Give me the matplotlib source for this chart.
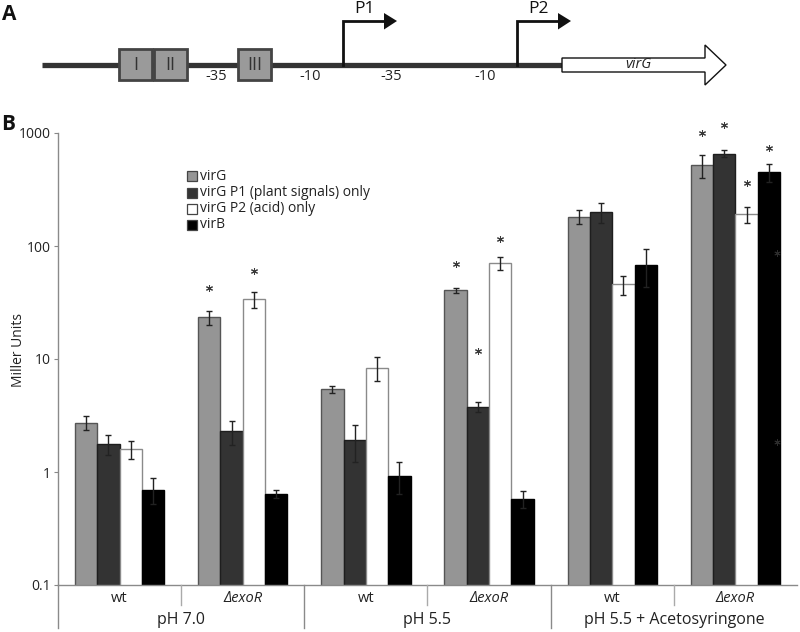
import matplotlib
matplotlib.use("Agg")
import matplotlib.pyplot as plt
import matplotlib.transforms as mtransforms
from matplotlib.patches import Rectangle, Polygon
import numpy as np

plt.rcParams['font.family'] = ['Open Sans', 'DejaVu Sans']

# ---------------- data ----------------
strains = ['wt', 'ΔexoR', 'wt', 'ΔexoR', 'wt', 'ΔexoR']
conditions = ['pH 7.0', 'pH 5.5', 'pH 5.5 + Acetosyringone']
series_names = ['virG', 'virG P1 (plant signals) only', 'virG P2 (acid) only', 'virB']

virG = [2.73, 23.4, 5.39, 40.5, 182, 518]
virG_err = [0.38, 3.4, 0.35, 2.4, 27, 116]
virG_P1 = [1.76, 2.29, 1.91, 3.76, 199, 656]
virG_P1_err = [0.35, 0.55, 0.68, 0.37, 40, 48]
virG_P2 = [1.60, 33.8, 8.38, 70.3, 45.8, 192]
virG_P2_err = [0.29, 5.7, 2.0, 9.6, 8.6, 31.5]
virB = [0.70, 0.64, 0.93, 0.58, 68.4, 449]
virB_err = [0.18, 0.05, 0.29, 0.10, 25, 79]

# significance asterisks: (category index, series index, y value)
star_cat = [1, 1, 3, 3, 3, 5, 5, 5, 5]
star_ser = [0, 2, 0, 1, 2, 0, 1, 2, 3]
star_y = [42.8, 60.1, 69.3, 11.8, 115, 1006, 1170, 363, 737]
# faint stray marks inside the last black bar
faint_y = [86.7, 1.84]

yticks = [0.1, 1, 10, 100, 1000]
ytick_labels = ['0.1', '1', '10', '100', '1000']

# ---------------- styles ----------------
face = ['#959595', '#333333', '#ffffff', '#000000']
edge = ['#555555', '#1e1e1e', '#8a8a8a', '#000000']

W, H = 800, 632
fig = plt.figure(figsize=(W / 100, H / 100), dpi=100)

# overlay axes in pixel coordinates (y downward)
ov = fig.add_axes([0, 0, 1, 1], zorder=5)
ov.set_xlim(0, W)
ov.set_ylim(H, 0)
ov.axis('off')
ov.patch.set_alpha(0)

# main axes
x0, x1, ytop, ybot = 58, 797, 133, 585
ax = fig.add_axes([x0 / W, (H - ybot) / H, (x1 - x0) / W, (ybot - ytop) / H], zorder=2)
ax.patch.set_alpha(0)

all_vals = [virG, virG_P1, virG_P2, virB]
all_err = [virG_err, virG_P1_err, virG_P2_err, virB_err]
bw = 0.181
x = np.arange(len(strains))
offs = [-1.5 * bw, -0.5 * bw, 0.5 * bw, 1.5 * bw]
for i in range(4):
    ax.bar(x + offs[i], all_vals[i], width=bw, color=face[i], edgecolor=edge[i],
           linewidth=1.0, bottom=0, zorder=2)
    ax.errorbar(x + offs[i], all_vals[i], yerr=all_err[i], fmt='none', ecolor='#222222',
                elinewidth=1.0, capsize=2.3, capthick=1.0, zorder=3)

for c, s, yv in zip(star_cat, star_ser, star_y):
    ax.plot(c + offs[s], yv, marker=(6, 2, 0), markersize=5.0, mew=0.75,
            color='#3a3a3a', linestyle='none', clip_on=False, zorder=4)
ax.plot([5 + offs[3] + 0.069] * len(faint_y), faint_y, marker=(6, 2, 0), markersize=4.5,
        mew=0.6, color='#2c2c2c', linestyle='none', zorder=4)

ax.set_yscale('log')
ax.set_ylim(0.1, 1000)
ax.set_xlim(-0.5, 5.5)
ax.set_yticks(yticks)
ax.set_yticklabels(ytick_labels)
ax.yaxis.set_minor_locator(matplotlib.ticker.NullLocator())
ax.tick_params(axis='y', length=3, width=0.8, color='#888888', labelsize=10, pad=2,
               labelcolor='#222222')
ax.tick_params(axis='x', length=0, labelbottom=False)
for sp in ['top', 'right']:
    ax.spines[sp].set_visible(False)
for sp in ['left', 'bottom']:
    ax.spines[sp].set_color('#8a8a8a')
    ax.spines[sp].set_linewidth(1.0)
ax.set_ylabel('Miller Units', fontsize=10, color='#222222')
ax.yaxis.set_label_coords(-0.043, 0.52)

# category table below the axis
bt = mtransforms.blended_transform_factory(ax.transData, ov.transData)
for i, s in enumerate(strains):
    st = 'italic' if s != 'wt' else 'normal'
    ov.text(i, 599, s, transform=bt, ha='center', va='center', fontsize=10.5,
            style=st, color='#222222')
for i in [0.5, 2.5, 4.5]:
    ov.plot([i, i], [585, 605], transform=bt, color='#aaaaaa', lw=1.0, clip_on=False)
for i in [-0.5, 1.5, 3.5]:
    ov.plot([i, i], [585, 628], transform=bt, color='#8a8a8a', lw=1.0, clip_on=False)
for j, c in enumerate(conditions):
    ov.text(2 * j + 0.5, 620, c, transform=bt, ha='center', va='center', fontsize=11.5,
            color='#222222')

# legend (drawn manually to keep the reference spacing)
leg_y = [176, 192.5, 208.5, 224.5]
for i, name in enumerate(series_names):
    ov.add_patch(Rectangle((186.5, leg_y[i] - 5), 10, 10, facecolor=face[i],
                           edgecolor='#444444', lw=0.9))
    ov.text(200, leg_y[i], name, ha='left', va='center', fontsize=10, color='#222222')

# panel letters
ov.text(2, 14, 'A', fontsize=15, fontweight='bold', ha='left', va='center', color='#111111')
ov.text(1, 124, 'B', fontsize=15, fontweight='bold', ha='left', va='center', color='#111111')

# ---------------- panel A diagram ----------------
ov.plot([42, 562], [65, 65], color='#333333', lw=3.8, solid_capstyle='butt', zorder=1)
for (bx0, bx1, lab) in [(119, 152, 'I'), (154, 187, 'II'), (238, 271, 'III')]:
    ov.add_patch(Rectangle((bx0, 49), bx1 - bx0, 31, facecolor='#9a9a9a',
                           edgecolor='#444444', lw=2, zorder=2))
    ov.text((bx0 + bx1) / 2, 64.5, lab, ha='center', va='center', fontsize=13,
            color='#333333', zorder=3)
for (tx, lab) in [(216, '-35'), (310, '-10'), (391, '-35'), (485, '-10')]:
    ov.text(tx, 76, lab, ha='center', va='center', fontsize=10.5, color='#222222')

for (px, tip, lab, lx) in [(343, 397, 'P1', 365), (517, 571, 'P2', 538)]:
    ov.plot([px, px, tip - 12], [65, 20.5, 20.5], color='#111111', lw=2.0,
            solid_joinstyle='miter', zorder=3)
    ov.add_patch(Polygon([(tip - 13, 13), (tip, 21), (tip - 13, 29.5)], closed=True,
                         facecolor='#111111', edgecolor='none', zorder=3))
    ov.text(lx, 9, lab, ha='center', va='center', fontsize=12.5, color='#111111')

ov.add_patch(Polygon([(562, 58), (705, 58), (705, 45), (726, 65), (705, 85), (705, 72),
                      (562, 72)], closed=True, facecolor='white', edgecolor='#111111',
                     lw=1.0, zorder=2))
ov.text(638, 64.5, 'virG', ha='center', va='center', fontsize=10.5, style='italic',
        color='#222222', zorder=3)

fig.savefig('out.png', dpi=100)
